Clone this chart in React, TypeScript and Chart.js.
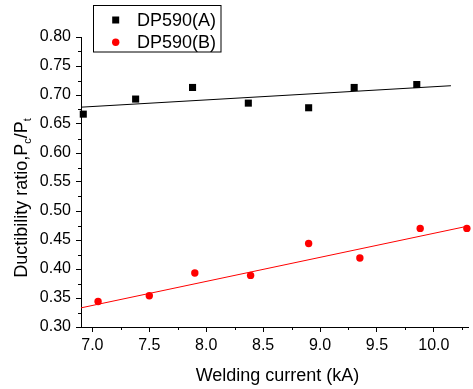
import React, { useEffect, useRef } from 'react';
import { Chart, registerables } from 'chart.js';

Chart.register(...registerables);

// ---- data ----
const seriesAName = 'DP590(A)';
const seriesBName = 'DP590(B)';
const currentA = [6.92, 7.38, 7.88, 8.37, 8.9, 9.3, 9.85];
const ratioA = [0.667, 0.693, 0.713, 0.686, 0.678, 0.713, 0.718];
const currentB = [7.05, 7.5, 7.9, 8.39, 8.9, 9.35, 9.88, 10.29];
const ratioB = [0.344, 0.354, 0.393, 0.389, 0.444, 0.419, 0.47, 0.47];
const fitAX = [6.9, 10.15];
const fitAY = [0.679, 0.716];
const fitBX = [6.9, 10.3];
const fitBY = [0.333, 0.474];
const xMinorTicks = [7.25, 7.75, 8.25, 8.75, 9.25, 9.75, 10.25];
const yMinorTicks = [0.325, 0.375, 0.425, 0.475, 0.525, 0.575, 0.625, 0.675, 0.725, 0.775];
const xTitle = 'Welding current (kA)';
const yTitleParts = ['Ductibility ratio,P', 'c', '/P', 't'];

const FONT = "'Liberation Sans', Arial, sans-serif";

const zip = (xs: number[], ys: number[]) => xs.map((x, i) => ({ x, y: ys[i] }));

const decorPlugin = {
  id: 'decor',
  afterDraw(chart: any) {
    const ctx = chart.ctx as CanvasRenderingContext2D;
    const xs = chart.scales.x;
    const ys = chart.scales.y;
    const area = chart.chartArea;
    ctx.save();
    // minor ticks
    ctx.strokeStyle = '#000';
    ctx.lineWidth = 1;
    ctx.beginPath();
    xMinorTicks.forEach((v) => {
      const px = Math.round(xs.getPixelForValue(v)) + 0.5;
      ctx.moveTo(px, area.bottom);
      ctx.lineTo(px, area.bottom + 3);
    });
    yMinorTicks.forEach((v) => {
      const py = Math.round(ys.getPixelForValue(v)) + 0.5;
      ctx.moveTo(area.left, py);
      ctx.lineTo(area.left - 3, py);
    });
    ctx.stroke();

    // x title
    ctx.fillStyle = '#000';
    ctx.font = `18px ${FONT}`;
    ctx.textAlign = 'center';
    ctx.textBaseline = 'alphabetic';
    ctx.fillText(xTitle, (area.left + area.right) / 2 + 3, 381);

    // y title with subscripts
    const big = `18px ${FONT}`;
    const small = `11px ${FONT}`;
    ctx.font = big;
    const w0 = ctx.measureText(yTitleParts[0]).width;
    const w2 = ctx.measureText(yTitleParts[2]).width;
    ctx.font = small;
    const w1 = ctx.measureText(yTitleParts[1]).width;
    const w3 = ctx.measureText(yTitleParts[3]).width;
    const total = w0 + w1 + w2 + w3;
    ctx.translate(27, 198);
    ctx.rotate(-Math.PI / 2);
    ctx.textAlign = 'left';
    let cx = -total / 2;
    ctx.font = big;
    ctx.fillText(yTitleParts[0], cx, 0);
    cx += w0;
    ctx.font = small;
    ctx.fillText(yTitleParts[1], cx, 4);
    cx += w1;
    ctx.font = big;
    ctx.fillText(yTitleParts[2], cx, 0);
    cx += w2;
    ctx.font = small;
    ctx.fillText(yTitleParts[3], cx, 4);
    ctx.restore();

    // legend
    ctx.save();
    ctx.strokeStyle = '#000';
    ctx.lineWidth = 1;
    ctx.strokeRect(93.5, 5.5, 127.5, 46.5);
    ctx.fillStyle = '#000';
    ctx.fillRect(112.2, 16.5, 7, 7);
    ctx.fillStyle = '#ff0000';
    ctx.beginPath();
    ctx.arc(115.7, 42.3, 3.7, 0, Math.PI * 2);
    ctx.fill();
    ctx.fillStyle = '#000';
    ctx.font = `18px ${FONT}`;
    ctx.textAlign = 'left';
    ctx.textBaseline = 'alphabetic';
    ctx.fillText(seriesAName, 137, 25.5);
    ctx.fillText(seriesBName, 137, 47.8);
    ctx.restore();
  },
};

export default function App() {
  const ref = useRef<HTMLCanvasElement>(null);
  useEffect(() => {
    if (!ref.current) return;
    const tickFont = { family: FONT, size: 16 };
    const chart = new Chart(ref.current, {
      type: 'scatter',
      data: {
        datasets: [
          {
            label: seriesAName,
            data: zip(currentA, ratioA),
            pointStyle: 'rect',
            pointRadius: 5,
            borderWidth: 0,
            backgroundColor: '#000',
            clip: false,
          },
          {
            label: seriesBName,
            data: zip(currentB, ratioB),
            pointStyle: 'circle',
            pointRadius: 3.7,
            borderWidth: 0,
            backgroundColor: '#ff0000',
            clip: false,
          },
          {
            label: 'fitA',
            data: zip(fitAX, fitAY),
            showLine: true,
            pointRadius: 0,
            borderColor: '#000',
            borderWidth: 1,
            clip: false,
          },
          {
            label: 'fitB',
            data: zip(fitBX, fitBY),
            showLine: true,
            pointRadius: 0,
            borderColor: '#ff0000',
            borderWidth: 1,
            clip: false,
          },
        ] as any,
      },
      options: {
        animation: false,
        responsive: false,
        devicePixelRatio: 1,
        layout: { padding: { top: 37, right: 2, left: 0, bottom: 0 } },
        plugins: { legend: { display: false }, tooltip: { enabled: false } },
        scales: {
          x: {
            type: 'linear',
            min: 6.9,
            max: 10.3,
            ticks: {
              stepSize: 0.5,
              includeBounds: false,
              padding: 4,
              color: '#000',
              font: tickFont,
              maxRotation: 0,
              callback: (v: any) => Number(v).toFixed(1),
            },
            grid: { display: true, drawOnChartArea: false, drawTicks: true, tickLength: 5, color: '#000', lineWidth: 1 },
            border: { display: true, color: '#000', width: 1 },
            afterFit: (s: any) => {
              s.height = 62;
            },
          },
          y: {
            type: 'linear',
            min: 0.3,
            max: 0.8,
            ticks: {
              stepSize: 0.05,
              includeBounds: false,
              padding: 5,
              color: '#000',
              font: tickFont,
              callback: (v: any) => Number(v).toFixed(2),
            },
            grid: { display: true, drawOnChartArea: false, drawTicks: true, tickLength: 5, color: '#000', lineWidth: 1 },
            border: { display: true, color: '#000', width: 1 },
            afterFit: (s: any) => {
              s.width = 81;
            },
          },
        },
      } as any,
      plugins: [decorPlugin],
    });
    return () => chart.destroy();
  }, []);
  return (
    <div style={{ position: 'absolute', left: 0, top: 0, width: 473, height: 389, background: '#fff' }}>
      <canvas ref={ref} width={473} height={389} style={{ display: 'block' }} />
    </div>
  );
}
